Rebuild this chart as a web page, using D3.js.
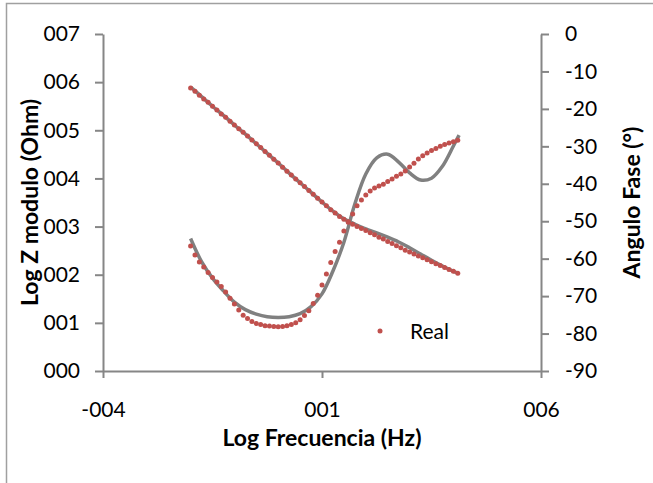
<!DOCTYPE html>
<html>
<head>
<meta charset="utf-8">
<script src="https://cdn.jsdelivr.net/npm/d3@7"></script>
<style>
  body { margin: 0; background: #fff; }
  svg text { font-family: Lato, "Open Sans", sans-serif; fill: #000; }
</style>
</head>
<body>
<svg id="chart" width="653" height="483"></svg>
<script>
// log frequency of the measured points
var logFreq = [-2.0, -1.9, -1.8, -1.7, -1.6, -1.5, -1.4, -1.3, -1.2, -1.1,
  -1.0, -0.9, -0.8, -0.7, -0.6, -0.5, -0.4, -0.3, -0.2, -0.1,
  0.0, 0.1, 0.2, 0.3, 0.4, 0.5, 0.6, 0.7, 0.8, 0.9,
  1.0, 1.1, 1.2, 1.3, 1.4, 1.5, 1.6, 1.7, 1.8, 1.9,
  2.0, 2.1, 2.2, 2.3, 2.4, 2.5, 2.6, 2.7, 2.8, 2.9,
  3.0, 3.1, 3.2, 3.3, 3.4, 3.5, 3.6, 3.7, 3.8, 3.9,
  4.0, 4.1];

// measured Log |Z|
var zReal = [5.88, 5.81, 5.73, 5.65, 5.58, 5.50, 5.42, 5.34, 5.27, 5.19,
  5.11, 5.03, 4.96, 4.88, 4.80, 4.72, 4.64, 4.56, 4.48, 4.40,
  4.32, 4.23, 4.15, 4.07, 3.99, 3.91, 3.83, 3.75, 3.67, 3.59,
  3.51, 3.43, 3.35, 3.28, 3.21, 3.15, 3.10, 3.05, 3.00, 2.96,
  2.92, 2.87, 2.83, 2.78, 2.74, 2.69, 2.65, 2.60, 2.56, 2.51,
  2.47, 2.43, 2.39, 2.35, 2.31, 2.27, 2.23, 2.19, 2.15, 2.11,
  2.07, 2.03];

// measured phase angle
var phaseReal = [-56.6, -59.0, -60.9, -62.2, -63.7, -65.0, -66.2, -67.4, -68.9, -70.6,
  -72.1, -73.7, -75.1, -76.0, -76.8, -77.3, -77.6, -77.9, -78.0, -78.1,
  -78.2, -78.1, -77.9, -77.6, -77.1, -76.3, -75.2, -73.9, -72.0, -69.8,
  -67.0, -64.1, -61.0, -58.1, -55.6, -52.6, -50.3, -48.1, -45.9, -44.3,
  -43.0, -41.9, -41.1, -40.6, -40.1, -39.4, -38.7, -38.0, -37.4, -36.6,
  -35.5, -34.5, -33.4, -32.5, -31.8, -31.1, -30.6, -30.0, -29.5, -29.1,
  -28.8, -28.4];

// fitted model curves
var fitFreq = [-2.0, -1.75, -1.5, -1.25, -1.0, -0.75, -0.5, -0.25, 0.0, 0.25,
  0.5, 0.75, 1.0, 1.25, 1.5, 1.75, 2.0, 2.25, 2.5, 2.75,
  3.0, 3.25, 3.5, 3.75, 4.0, 4.13];
var zFit = [5.90, 5.70, 5.50, 5.31, 5.11, 4.92, 4.72, 4.52, 4.32, 4.11,
  3.91, 3.71, 3.51, 3.32, 3.16, 3.05, 2.95, 2.87, 2.78, 2.68,
  2.56, 2.43, 2.30, 2.18, 2.07, 2.02];
var phaseFit = [-54.6, -60.8, -65.2, -68.6, -71.6, -73.6, -74.8, -75.5, -75.7, -75.5,
  -74.7, -72.8, -69.4, -63.3, -55.6, -45.4, -37.4, -33.1, -32.1, -34.2,
  -37.1, -39.0, -38.5, -35.3, -29.9, -27.0];

var leftTicks = [0, 1, 2, 3, 4, 5, 6, 7];
var rightTicks = [0, -10, -20, -30, -40, -50, -60, -70, -80, -90];
var xTicks = [-4, 1, 6];
var legendLabel = "Real";

var svg = d3.select("#chart");
var axisColor = "#868686", red = "#C0504D", gray = "#808080";
var fs = 21, titleFs = 23;

// chart border
svg.append("rect")
  .attr("x", 6.5).attr("y", 3.5)
  .attr("width", 700).attr("height", 600)
  .attr("fill", "none").attr("stroke", "#a0a0a0").attr("stroke-width", 1.5);

var plot = { left: 103, right: 541, top: 34, bottom: 371 };

var x = d3.scaleLinear().domain([-4, 6]).range([plot.left, plot.right]);
var yL = d3.scaleLinear().domain([0, 7]).range([plot.bottom, plot.top]);
var yR = d3.scaleLinear().domain([-90, 0]).range([plot.bottom, plot.top]);

function pad3(v) {
  return (v < 0 ? "-" : "") + String(Math.abs(v)).padStart(3, "0");
}

function styleAxis(g) {
  g.select(".domain").attr("stroke", axisColor).attr("stroke-width", 2);
  g.selectAll(".tick line").attr("stroke", axisColor).attr("stroke-width", 2);
  g.selectAll(".tick text").attr("font-size", fs).attr("fill", "#000");
}

svg.append("g")
  .attr("transform", "translate(" + plot.left + ",0)")
  .call(d3.axisLeft(yL).tickValues(leftTicks).tickFormat(pad3).tickSize(8).tickSizeOuter(0).tickPadding(15))
  .call(styleAxis);

svg.append("g")
  .attr("transform", "translate(" + plot.right + ",0)")
  .call(d3.axisRight(yR).tickValues(rightTicks).tickFormat(function(d) { return String(d); })
    .tickSize(8).tickSizeOuter(0).tickPadding(16))
  .call(styleAxis);

svg.append("g")
  .attr("transform", "translate(0," + plot.bottom + ")")
  .call(d3.axisBottom(x).tickValues(xTicks).tickFormat(pad3).tickSize(7).tickSizeOuter(0).tickPadding(24))
  .call(styleAxis);

// axis titles
svg.append("text")
  .attr("transform", "translate(38," + (plot.top + plot.bottom) / 2 + ") rotate(-90)")
  .attr("text-anchor", "middle").attr("font-size", titleFs).attr("font-weight", "bold")
  .text("Log Z modulo (Ohm)");

svg.append("text")
  .attr("transform", "translate(640," + (plot.top + plot.bottom) / 2 + ") rotate(-90)")
  .attr("text-anchor", "middle").attr("font-size", titleFs).attr("font-weight", "bold")
  .text("Angulo Fase (°)");

svg.append("text")
  .attr("x", (plot.left + plot.right) / 2).attr("y", 446)
  .attr("text-anchor", "middle").attr("font-size", titleFs).attr("font-weight", "bold")
  .text("Log Frecuencia (Hz)");

// fitted curves
var fitLineZ = d3.line()
  .x(function(d, i) { return x(fitFreq[i]); })
  .y(function(d) { return yL(d); })
  .curve(d3.curveCatmullRom.alpha(0.5));
var fitLineP = d3.line()
  .x(function(d, i) { return x(fitFreq[i]); })
  .y(function(d) { return yR(d); })
  .curve(d3.curveCatmullRom.alpha(0.5));

svg.append("path").datum(zFit)
  .attr("d", fitLineZ).attr("fill", "none")
  .attr("stroke", gray).attr("stroke-width", 3.5);
svg.append("path").datum(phaseFit)
  .attr("d", fitLineP).attr("fill", "none")
  .attr("stroke", gray).attr("stroke-width", 3.5);

// measured points
svg.append("g").selectAll("circle.z")
  .data(zReal).enter().append("circle")
  .attr("cx", function(d, i) { return x(logFreq[i]); })
  .attr("cy", function(d) { return yL(d); })
  .attr("r", 2.5).attr("fill", red);

svg.append("g").selectAll("circle.p")
  .data(phaseReal).enter().append("circle")
  .attr("cx", function(d, i) { return x(logFreq[i]); })
  .attr("cy", function(d) { return yR(d); })
  .attr("r", 2.5).attr("fill", red);

// legend
var legend = svg.append("g").attr("transform", "translate(380,331)");
legend.append("circle").attr("r", 2.5).attr("fill", red);
legend.append("text").attr("x", 30).attr("y", 7.5)
  .attr("font-size", fs).text(legendLabel);
</script>
</body>
</html>
